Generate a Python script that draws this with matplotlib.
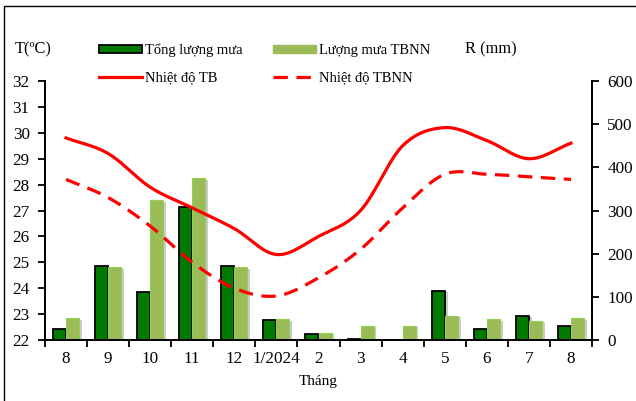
"""Rainfall bars + temperature lines, monthly 8/2023 - 8/2024."""
import numpy as np
import matplotlib
matplotlib.use("Agg")
import matplotlib.pyplot as plt
import matplotlib.patheffects as pe
from matplotlib.patches import Patch, Rectangle
from matplotlib.lines import Line2D

months = ["8", "9", "10", "11", "12", "1/2024", "2", "3", "4", "5", "6", "7", "8"]
rain_total = [25, 171, 112, 307, 171, 46, 15, 3, 0, 114, 26, 56, 33]
rain_norm = [50, 168, 324, 375, 168, 48, 17, 33, 33, 56, 48, 44, 50]
temp_mean = [29.8, 29.2, 27.9, 27.1, 26.3, 25.3, 26.0, 27.0, 29.5, 30.2, 29.7, 29.0, 29.6]
temp_norm = [28.2, 27.5, 26.4, 25.0, 24.0, 23.7, 24.4, 25.5, 27.1, 28.4, 28.4, 28.3, 28.2]

plt.rcParams["font.family"] = ["Liberation Serif", "DejaVu Serif"]
plt.rcParams["font.size"] = 10.5


def smooth(y, n=20):
    # catmull-rom, like excel's "smoothed line"
    y = np.asarray(y, float)
    p = np.concatenate([[2 * y[0] - y[1]], y, [2 * y[-1] - y[-2]]])
    xs, ys = [], []
    for i in range(len(y) - 1):
        t = np.linspace(0, 1, n, endpoint=False)
        p0, p1, p2, p3 = p[i], p[i + 1], p[i + 2], p[i + 3]
        ys.append(0.5 * (2 * p1 + (-p0 + p2) * t + (2 * p0 - 5 * p1 + 4 * p2 - p3) * t ** 2
                         + (-p0 + 3 * p1 - 3 * p2 + p3) * t ** 3))
        xs.append(i + t)
    xs.append([len(y) - 1]); ys.append([y[-1]])
    return np.concatenate(xs), np.concatenate(ys)


fig = plt.figure(figsize=(6.36, 4.01), dpi=100)
ax = fig.add_axes([45 / 636, 1 - 340 / 401, 547 / 636, 259 / 401])
ax2 = ax.twinx()

x = np.arange(len(months))
w = 0.31
dark, light = "#007a00", "#9bbb59"
shadow = [pe.SimplePatchShadow(offset=(2, -1), shadow_rgbFace="#999999", alpha=0.5), pe.Normal()]
ax.bar(x - w / 2, rain_total, w, color=dark, edgecolor="black", lw=1.3, path_effects=shadow)
ax.bar(x + w / 2, rain_norm, w, color=light, edgecolor="#92d050", lw=0.8, path_effects=shadow)

dash = (4.5, 2.7)
xs, ys = smooth(temp_mean)
ax2.plot(xs, ys, color="red", lw=2.3)
xs, ys = smooth(temp_norm)
ax2.plot(xs, ys, color="red", lw=2.3, dashes=dash)

ax.set_xlim(-0.5, len(months) - 0.5)
ax.set_ylim(0, 600)
ax.set_yticks(range(0, 601, 100))
ax.yaxis.tick_right()
ax2.set_ylim(22, 32)
ax2.set_yticks(range(22, 33))
ax2.yaxis.tick_left()
ax.set_xticks(x)
ax.set_xticklabels(months)
ax.set_xticks(np.arange(-0.5, len(months)), minor=True)
ax.tick_params(axis="x", which="major", length=0, pad=8, labelsize=12.3)
ax.tick_params(axis="x", which="minor", length=5, width=1.3, direction="out")
ax.tick_params(axis="y", length=5, width=1.3, pad=6, labelsize=12.3)
ax2.tick_params(axis="y", length=5, width=1.3, pad=6, labelsize=12.3)
for a in (ax, ax2):
    a.spines["top"].set_visible(False)
    for s in ("left", "right", "bottom"):
        a.spines[s].set_linewidth(1.3)
ax.set_xlabel("Tháng", labelpad=6, fontsize=11)

fig.text(15 / 636, 1 - 49 / 401, "T(ºC)", va="center", fontsize=11.8)
fig.text(465 / 636, 1 - 49 / 401, "R (mm)", va="center", fontsize=11.8)

handles = [Patch(facecolor=dark, edgecolor="black", lw=1.3),
           Line2D([], [], color="red", lw=2.3),
           Patch(facecolor=light, edgecolor=light),
           Line2D([], [], color="red", lw=2.3, dashes=dash)]
labels = ["Tổng lượng mưa", "Nhiệt độ TB", "Lượng mưa TBNN", "Nhiệt độ TBNN"]
fig.legend(handles, labels, ncol=2, loc="upper left", bbox_to_anchor=(92 / 636, 1 - 36 / 401),
           frameon=False, handlelength=2.95, handleheight=0.5, handletextpad=0.2,
           columnspacing=2.05, labelspacing=1.0, borderpad=0)

fig.patches.append(Rectangle((4 / 636, -0.05), 1.1, 1 - 6 / 401 + 0.05, transform=fig.transFigure,
                             fill=False, edgecolor="black", lw=1.0))

fig.savefig("out.png", dpi=100)
